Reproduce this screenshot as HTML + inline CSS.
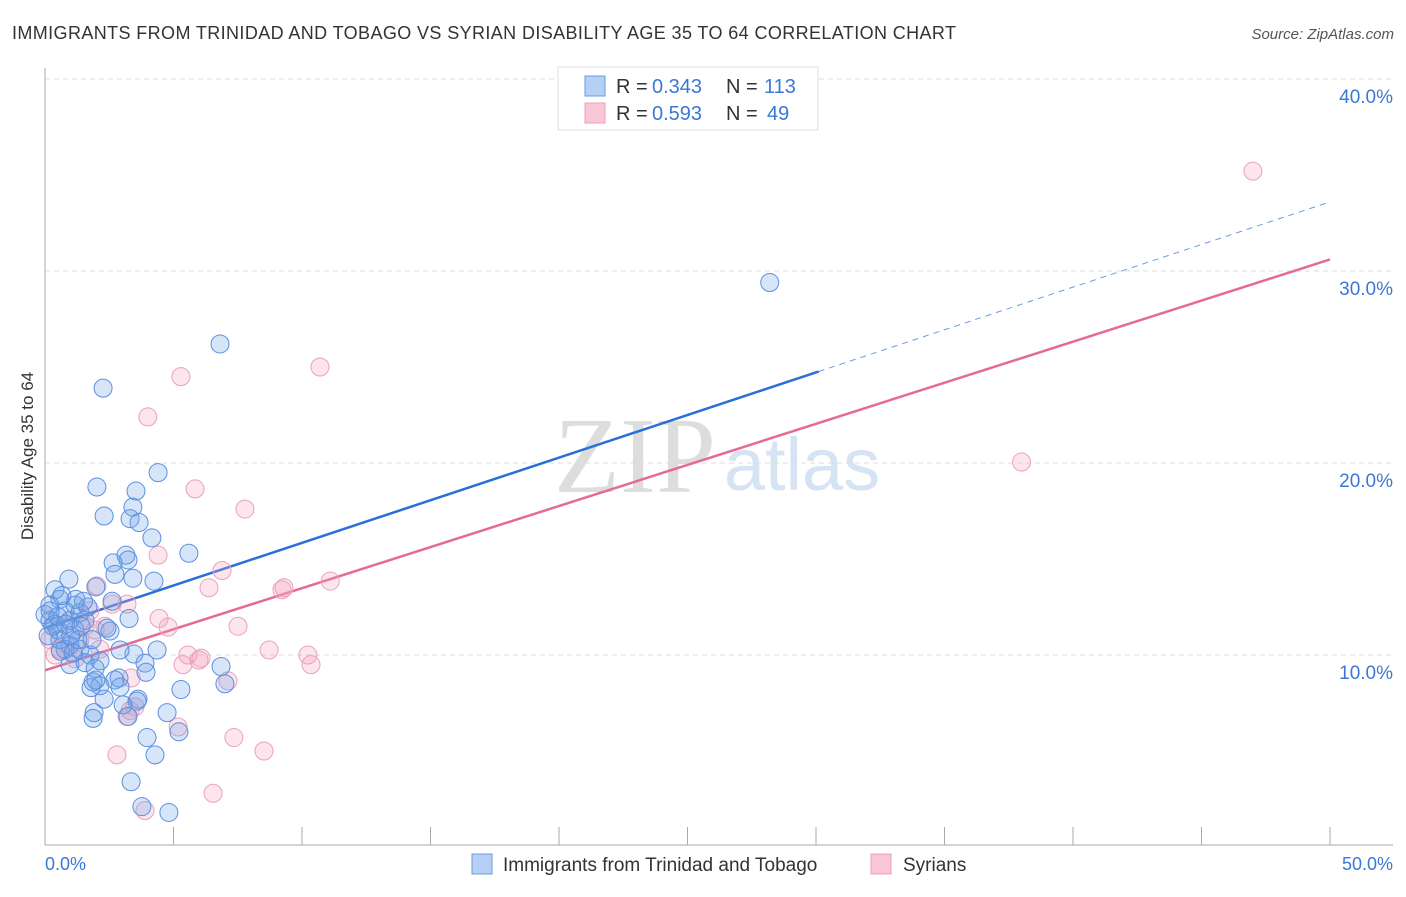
<!DOCTYPE html>
<html><head><meta charset="utf-8"><style>
body{margin:0;background:#fff;font-family:"Liberation Sans",sans-serif}
</style></head><body>
<svg id="chart" width="1406" height="892" xmlns="http://www.w3.org/2000/svg" font-family="Liberation Sans, sans-serif">
<text x="12" y="39" font-size="18" fill="#333" textLength="944" lengthAdjust="spacing">IMMIGRANTS FROM TRINIDAD AND TOBAGO VS SYRIAN DISABILITY AGE 35 TO 64 CORRELATION CHART</text>
<text x="1394" y="39" font-size="15" fill="#555" text-anchor="end" font-style="italic">Source: ZipAtlas.com</text>
<g font-size="100" text-anchor="middle">
<text x="635" y="492" fill="#ddd" font-family="Liberation Serif, serif" font-size="108">ZIP</text>
<text x="802" y="490" fill="#d5e3f3" font-size="74">atlas</text></g>
<g id="grid"></g>
<line x1="45" y1="68" x2="45" y2="845" stroke="#aaa"/>
<line x1="45" y1="845" x2="1393" y2="845" stroke="#aaa"/>
<text transform="translate(33,456) rotate(-90)" font-size="17" fill="#333" text-anchor="middle">Disability Age 35 to 64</text>
<text x="45" y="870" font-size="18" fill="#3a78d8">0.0%</text>
<text x="1393" y="870" font-size="18" fill="#3a78d8" text-anchor="end">50.0%</text>
<g id="ylabels"></g>
<g id="lines"></g>
<g id="points"></g>
<g>
<rect x="558" y="67" width="260" height="63" fill="#fff" stroke="#ddd"/>
<rect x="585" y="76" width="20" height="20" fill="#b5cff5" stroke="#6b9be0"/>
<rect x="585" y="103" width="20" height="20" fill="#f8c6d6" stroke="#eba1ba"/>
<text y="93" font-size="20" fill="#333"><tspan x="616">R =</tspan><tspan x="652" fill="#3a78d8">0.343</tspan><tspan x="726">N =</tspan><tspan x="764" fill="#3a78d8">113</tspan></text>
<text y="120" font-size="20" fill="#333"><tspan x="616">R =</tspan><tspan x="652" fill="#3a78d8">0.593</tspan><tspan x="726">N =</tspan><tspan x="767" fill="#3a78d8">49</tspan></text>
</g>
<g>
<rect x="472" y="854" width="20" height="20" fill="#b5cff5" stroke="#6b9be0"/>
<text x="503" y="871" font-size="19" fill="#333">Immigrants from Trinidad and Tobago</text>
<rect x="871" y="854" width="20" height="20" fill="#f8c6d6" stroke="#eba1ba"/>
<text x="903" y="871" font-size="19" fill="#333">Syrians</text>
</g>
</svg>
<script>
const yTicks=[10,20,30,40];
const xTicks=[5,10,15,20,25,30,35,40,45,50];
const blueX=[6.81,2.26,28.2,4.40,2.02,3.54,2.30,3.42,3.31,3.66,4.16,5.60,3.15,3.23,2.65,4.24,3.42,0.93,2.72,1.98,2.61,3.27,2.53,2.41,4.36,3.46,2.92,3.89,3.93,6.85,7.0,5.29,2.88,2.72,2.92,2.14,1.79,1.87,1.98,3.62,3.58,3.04,2.30,4.75,1.91,1.87,3.23,3.97,4.28,5.21,3.35,3.77,4.82,0.39,0.58,0.78,0.19,0.39,0.97,1.36,1.56,1.17,0.58,0.97,1.36,1.75,2.14,0.97,1.56,1.95,0.19,0.66,1.17,1.67,0.78,1.28,1.83,0.51,0,0.12,0.3,0.5,1.0,1.2,0.8,1.4,0.2,0.6,1.1,1.5];
const blueY=[26.2,23.9,29.4,19.5,18.75,18.54,17.24,17.7,17.1,16.9,16.1,15.3,15.2,14.95,14.8,13.85,14.0,13.95,14.2,13.55,12.8,11.9,11.25,11.4,10.26,10.05,10.26,9.58,9.1,9.4,8.5,8.2,8.8,8.7,8.33,8.4,8.3,8.6,8.7,7.7,7.6,7.4,7.7,7.0,7.0,6.7,6.8,5.7,4.8,6.0,3.4,2.1,1.8,13.4,12.9,12.3,11.8,11.6,11.8,12.2,11.8,11.3,10.8,10.5,10.3,10.0,9.7,9.5,9.6,9.3,12.6,13.1,12.6,12.5,10.3,10.8,10.8,11.3,12.1,11.0,11.5,12.0,11.0,12.9,11.6,11.5,12.3,10.2,10.1,12.8];
const pinkX=[47.0,10.7,5.29,4.0,5.84,7.78,4.40,6.89,11.1,9.22,9.3,6.38,2.02,3.19,2.61,4.44,4.79,7.51,38.0,8.72,10.23,10.35,5.56,5.99,6.07,5.37,7.12,3.35,3.31,3.5,3.19,5.18,7.35,2.8,8.52,6.54,3.89,2.14,1.36,0.58,0.39,1.75,1.56,0.97,1.95,1.17,0.78,0.19,2.33];
const pinkY=[35.2,25.0,24.5,22.4,18.65,17.6,15.2,14.4,13.85,13.4,13.5,13.5,13.6,12.65,12.65,11.9,11.45,11.5,20.05,10.26,10.0,9.5,10.0,9.74,9.84,9.5,8.65,8.8,7.1,7.3,6.8,6.25,5.7,4.8,5.0,2.8,1.9,10.3,10.8,10.3,10.0,12.3,11.5,11.8,11.3,9.8,10.6,10.8,11.5];
const blueTrend=[11.4,33.6];
const pinkTrend=[9.2,30.6];
const NS="http://www.w3.org/2000/svg";
const sx=v=>45+v*25.7, sy=v=>847-v*19.2;
function mk(tag,attrs,parent){const e=document.createElementNS(NS,tag);for(const k in attrs)e.setAttribute(k,attrs[k]);document.getElementById(parent).appendChild(e);return e;}
yTicks.forEach(t=>{
 const g=mk('line',{x1:45,x2:1393,y1:sy(t),y2:sy(t),stroke:'#ddd','stroke-dasharray':'5,4'},'grid');
 
 
 const l=mk('text',{x:1393,y:sy(t)+24,'font-size':19,fill:'#3a78d8','text-anchor':'end'},'ylabels');
 l.textContent=t.toFixed(1)+'%';
 
 
});
xTicks.forEach(t=>{
 const g=mk('line',{x1:sx(t),x2:sx(t),y1:827,y2:845,stroke:'#aaa'},'grid');
 
 
});
function pts(xs,ys,fill,stroke,name){xs.forEach((x,i)=>{
 const c=mk('circle',{cx:sx(x),cy:sy(ys[i]),r:9,fill:fill,stroke:stroke,'stroke-width':1},'points');
 
 
});}
pts(pinkX,pinkY,'rgba(243,160,188,0.28)','#eba1ba','syrian-point');
pts(blueX,blueY,'rgba(110,160,235,0.28)','#5a90e0','trinidad-point');
const bx=30.1, by=blueTrend[0]+(blueTrend[1]-blueTrend[0])*bx/50;
let l1=mk('line',{x1:sx(0),y1:sy(blueTrend[0]),x2:sx(bx),y2:sy(by),stroke:'#2a6fd8','stroke-width':2.5},'lines');


let l2=mk('line',{x1:sx(bx),y1:sy(by),x2:sx(50),y2:sy(blueTrend[1]),stroke:'#6b9be0','stroke-width':1,'stroke-dasharray':'6,5'},'lines');


let l3=mk('line',{x1:sx(0),y1:sy(pinkTrend[0]),x2:sx(50),y2:sy(pinkTrend[1]),stroke:'#e56a95','stroke-width':2.5},'lines');


</script>
</body></html>
